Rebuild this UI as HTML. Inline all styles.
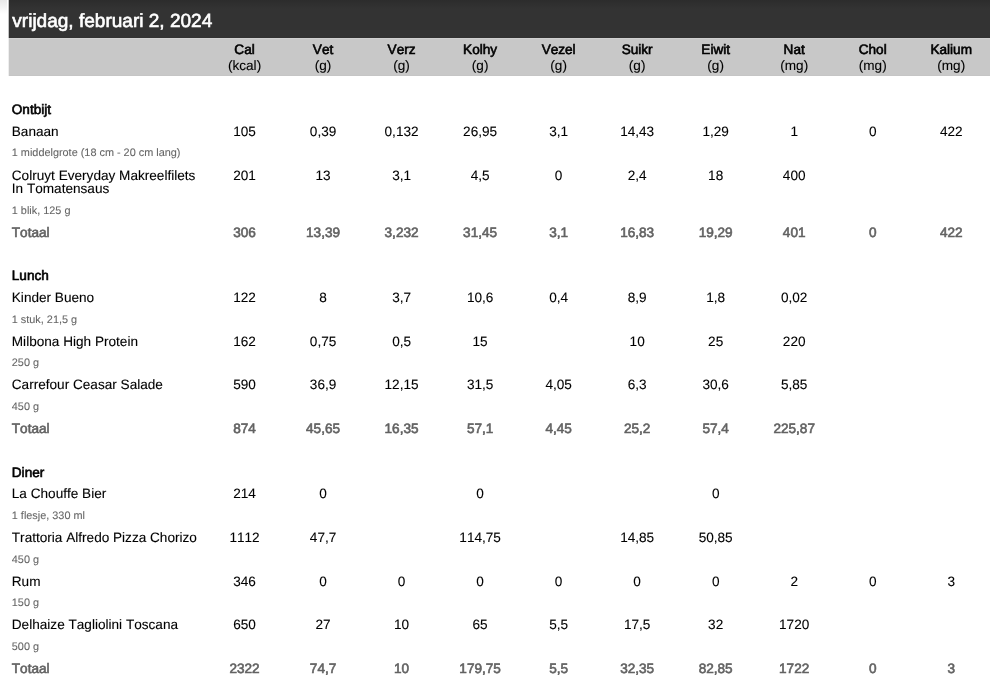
<!DOCTYPE html>
<html lang="nl"><head><meta charset="utf-8"><title>Voedingsdagboek</title>
<style>
html,body{margin:0;padding:0;background:#fff;}
body{width:990px;height:693px;position:relative;overflow:hidden;font-family:"Liberation Sans",sans-serif;color:#000;text-rendering:geometricPrecision;font-kerning:none;}
.shade{position:absolute;left:0;top:0;width:7.3px;height:14px;background:linear-gradient(#e8e8e8,#fff);}
.bar{position:absolute;left:9px;top:0;width:981px;height:38px;background:linear-gradient(#2c2c2c 0,#333 9px,#333 36px,#313131 38px);}
.hdr{position:absolute;left:9px;top:38px;width:981px;height:38px;background:linear-gradient(#d0d0d0 0,#d0d0d0 1px,#c8c8c8 1px,#c8c8c8 37px,#c5c5c5 37px);}
.e1{position:absolute;left:8px;top:0;width:1px;height:38px;background:#c2c2c2;}
.e2{position:absolute;left:8px;top:38px;width:1px;height:38px;background:#eee;}
.t{position:absolute;white-space:nowrap;-webkit-text-stroke:0.1px currentColor;font-size:13.6px;line-height:15px;}
.c{text-align:center;}
.s{font-size:10.88px;line-height:12px;color:#666;-webkit-text-stroke:0.08px currentColor;}
.b{-webkit-text-stroke:0.6px currentColor;}
.g{color:#626262;}
.title{font-size:19.04px;line-height:21px;color:#fff;-webkit-text-stroke:0.62px #fff;}
.txt{position:absolute;left:0;top:0;width:990px;height:693px;}
</style></head><body>
<div class="shade"></div>
<div class="bar"></div>
<div class="hdr"></div>
<div class="e1"></div>
<div class="e2"></div>
<div class="txt">
<div class="t title" style="left:12.3px;top:11.00px">vrijdag, februari 2, 2024</div>
<div class="t c b" style="left:205.30px;top:42.00px;width:78.52px">Cal</div>
<div class="t c b" style="left:283.82px;top:42.00px;width:78.52px">Vet</div>
<div class="t c b" style="left:362.34px;top:42.00px;width:78.52px">Verz</div>
<div class="t c b" style="left:440.86px;top:42.00px;width:78.52px">Kolhy</div>
<div class="t c b" style="left:519.38px;top:42.00px;width:78.52px">Vezel</div>
<div class="t c b" style="left:597.90px;top:42.00px;width:78.52px">Suikr</div>
<div class="t c b" style="left:676.42px;top:42.00px;width:78.52px">Eiwit</div>
<div class="t c b" style="left:754.94px;top:42.00px;width:78.52px">Nat</div>
<div class="t c b" style="left:833.46px;top:42.00px;width:78.52px">Chol</div>
<div class="t c b" style="left:911.98px;top:42.00px;width:78.52px">Kalium</div>
<div class="t c " style="left:205.30px;top:58.00px;width:78.52px">(kcal)</div>
<div class="t c " style="left:283.82px;top:58.00px;width:78.52px">(g)</div>
<div class="t c " style="left:362.34px;top:58.00px;width:78.52px">(g)</div>
<div class="t c " style="left:440.86px;top:58.00px;width:78.52px">(g)</div>
<div class="t c " style="left:519.38px;top:58.00px;width:78.52px">(g)</div>
<div class="t c " style="left:597.90px;top:58.00px;width:78.52px">(g)</div>
<div class="t c " style="left:676.42px;top:58.00px;width:78.52px">(g)</div>
<div class="t c " style="left:754.94px;top:58.00px;width:78.52px">(mg)</div>
<div class="t c " style="left:833.46px;top:58.00px;width:78.52px">(mg)</div>
<div class="t c " style="left:911.98px;top:58.00px;width:78.52px">(mg)</div>
<div class="t b" style="left:11.80px;top:102.00px">Ontbijt</div>
<div class="t " style="left:11.80px;top:124.00px">Banaan</div>
<div class="t c " style="left:205.30px;top:124.00px;width:78.52px">105</div>
<div class="t c " style="left:283.82px;top:124.00px;width:78.52px">0,39</div>
<div class="t c " style="left:362.34px;top:124.00px;width:78.52px">0,132</div>
<div class="t c " style="left:440.86px;top:124.00px;width:78.52px">26,95</div>
<div class="t c " style="left:519.38px;top:124.00px;width:78.52px">3,1</div>
<div class="t c " style="left:597.90px;top:124.00px;width:78.52px">14,43</div>
<div class="t c " style="left:676.42px;top:124.00px;width:78.52px">1,29</div>
<div class="t c " style="left:754.94px;top:124.00px;width:78.52px">1</div>
<div class="t c " style="left:833.46px;top:124.00px;width:78.52px">0</div>
<div class="t c " style="left:911.98px;top:124.00px;width:78.52px">422</div>
<div class="t s" style="left:11.80px;top:147.00px">1 middelgrote (18 cm - 20 cm lang)</div>
<div class="t " style="left:11.80px;top:168.00px">Colruyt Everyday Makreelfilets</div>
<div class="t c " style="left:205.30px;top:168.00px;width:78.52px">201</div>
<div class="t c " style="left:283.82px;top:168.00px;width:78.52px">13</div>
<div class="t c " style="left:362.34px;top:168.00px;width:78.52px">3,1</div>
<div class="t c " style="left:440.86px;top:168.00px;width:78.52px">4,5</div>
<div class="t c " style="left:519.38px;top:168.00px;width:78.52px">0</div>
<div class="t c " style="left:597.90px;top:168.00px;width:78.52px">2,4</div>
<div class="t c " style="left:676.42px;top:168.00px;width:78.52px">18</div>
<div class="t c " style="left:754.94px;top:168.00px;width:78.52px">400</div>
<div class="t " style="left:11.80px;top:181.00px">In Tomatensaus</div>
<div class="t s" style="left:11.80px;top:205.00px">1 blik, 125 g</div>
<div class="t b g" style="left:11.80px;top:225.00px">Totaal</div>
<div class="t c b g" style="left:205.30px;top:225.00px;width:78.52px">306</div>
<div class="t c b g" style="left:283.82px;top:225.00px;width:78.52px">13,39</div>
<div class="t c b g" style="left:362.34px;top:225.00px;width:78.52px">3,232</div>
<div class="t c b g" style="left:440.86px;top:225.00px;width:78.52px">31,45</div>
<div class="t c b g" style="left:519.38px;top:225.00px;width:78.52px">3,1</div>
<div class="t c b g" style="left:597.90px;top:225.00px;width:78.52px">16,83</div>
<div class="t c b g" style="left:676.42px;top:225.00px;width:78.52px">19,29</div>
<div class="t c b g" style="left:754.94px;top:225.00px;width:78.52px">401</div>
<div class="t c b g" style="left:833.46px;top:225.00px;width:78.52px">0</div>
<div class="t c b g" style="left:911.98px;top:225.00px;width:78.52px">422</div>
<div class="t b" style="left:11.80px;top:268.00px">Lunch</div>
<div class="t " style="left:11.80px;top:290.00px">Kinder Bueno</div>
<div class="t c " style="left:205.30px;top:290.00px;width:78.52px">122</div>
<div class="t c " style="left:283.82px;top:290.00px;width:78.52px">8</div>
<div class="t c " style="left:362.34px;top:290.00px;width:78.52px">3,7</div>
<div class="t c " style="left:440.86px;top:290.00px;width:78.52px">10,6</div>
<div class="t c " style="left:519.38px;top:290.00px;width:78.52px">0,4</div>
<div class="t c " style="left:597.90px;top:290.00px;width:78.52px">8,9</div>
<div class="t c " style="left:676.42px;top:290.00px;width:78.52px">1,8</div>
<div class="t c " style="left:754.94px;top:290.00px;width:78.52px">0,02</div>
<div class="t s" style="left:11.80px;top:314.00px">1 stuk, 21,5 g</div>
<div class="t " style="left:11.80px;top:334.00px">Milbona High Protein</div>
<div class="t c " style="left:205.30px;top:334.00px;width:78.52px">162</div>
<div class="t c " style="left:283.82px;top:334.00px;width:78.52px">0,75</div>
<div class="t c " style="left:362.34px;top:334.00px;width:78.52px">0,5</div>
<div class="t c " style="left:440.86px;top:334.00px;width:78.52px">15</div>
<div class="t c " style="left:597.90px;top:334.00px;width:78.52px">10</div>
<div class="t c " style="left:676.42px;top:334.00px;width:78.52px">25</div>
<div class="t c " style="left:754.94px;top:334.00px;width:78.52px">220</div>
<div class="t s" style="left:11.80px;top:357.00px">250 g</div>
<div class="t " style="left:11.80px;top:377.00px">Carrefour Ceasar Salade</div>
<div class="t c " style="left:205.30px;top:377.00px;width:78.52px">590</div>
<div class="t c " style="left:283.82px;top:377.00px;width:78.52px">36,9</div>
<div class="t c " style="left:362.34px;top:377.00px;width:78.52px">12,15</div>
<div class="t c " style="left:440.86px;top:377.00px;width:78.52px">31,5</div>
<div class="t c " style="left:519.38px;top:377.00px;width:78.52px">4,05</div>
<div class="t c " style="left:597.90px;top:377.00px;width:78.52px">6,3</div>
<div class="t c " style="left:676.42px;top:377.00px;width:78.52px">30,6</div>
<div class="t c " style="left:754.94px;top:377.00px;width:78.52px">5,85</div>
<div class="t s" style="left:11.80px;top:401.00px">450 g</div>
<div class="t b g" style="left:11.80px;top:421.00px">Totaal</div>
<div class="t c b g" style="left:205.30px;top:421.00px;width:78.52px">874</div>
<div class="t c b g" style="left:283.82px;top:421.00px;width:78.52px">45,65</div>
<div class="t c b g" style="left:362.34px;top:421.00px;width:78.52px">16,35</div>
<div class="t c b g" style="left:440.86px;top:421.00px;width:78.52px">57,1</div>
<div class="t c b g" style="left:519.38px;top:421.00px;width:78.52px">4,45</div>
<div class="t c b g" style="left:597.90px;top:421.00px;width:78.52px">25,2</div>
<div class="t c b g" style="left:676.42px;top:421.00px;width:78.52px">57,4</div>
<div class="t c b g" style="left:754.94px;top:421.00px;width:78.52px">225,87</div>
<div class="t b" style="left:11.80px;top:465.00px">Diner</div>
<div class="t " style="left:11.80px;top:486.00px">La Chouffe Bier</div>
<div class="t c " style="left:205.30px;top:486.00px;width:78.52px">214</div>
<div class="t c " style="left:283.82px;top:486.00px;width:78.52px">0</div>
<div class="t c " style="left:440.86px;top:486.00px;width:78.52px">0</div>
<div class="t c " style="left:676.42px;top:486.00px;width:78.52px">0</div>
<div class="t s" style="left:11.80px;top:510.00px">1 flesje, 330 ml</div>
<div class="t " style="left:11.80px;top:530.00px">Trattoria Alfredo Pizza Chorizo</div>
<div class="t c " style="left:205.30px;top:530.00px;width:78.52px">1112</div>
<div class="t c " style="left:283.82px;top:530.00px;width:78.52px">47,7</div>
<div class="t c " style="left:440.86px;top:530.00px;width:78.52px">114,75</div>
<div class="t c " style="left:597.90px;top:530.00px;width:78.52px">14,85</div>
<div class="t c " style="left:676.42px;top:530.00px;width:78.52px">50,85</div>
<div class="t s" style="left:11.80px;top:554.00px">450 g</div>
<div class="t " style="left:11.80px;top:574.00px">Rum</div>
<div class="t c " style="left:205.30px;top:574.00px;width:78.52px">346</div>
<div class="t c " style="left:283.82px;top:574.00px;width:78.52px">0</div>
<div class="t c " style="left:362.34px;top:574.00px;width:78.52px">0</div>
<div class="t c " style="left:440.86px;top:574.00px;width:78.52px">0</div>
<div class="t c " style="left:519.38px;top:574.00px;width:78.52px">0</div>
<div class="t c " style="left:597.90px;top:574.00px;width:78.52px">0</div>
<div class="t c " style="left:676.42px;top:574.00px;width:78.52px">0</div>
<div class="t c " style="left:754.94px;top:574.00px;width:78.52px">2</div>
<div class="t c " style="left:833.46px;top:574.00px;width:78.52px">0</div>
<div class="t c " style="left:911.98px;top:574.00px;width:78.52px">3</div>
<div class="t s" style="left:11.80px;top:597.00px">150 g</div>
<div class="t " style="left:11.80px;top:617.00px">Delhaize Tagliolini Toscana</div>
<div class="t c " style="left:205.30px;top:617.00px;width:78.52px">650</div>
<div class="t c " style="left:283.82px;top:617.00px;width:78.52px">27</div>
<div class="t c " style="left:362.34px;top:617.00px;width:78.52px">10</div>
<div class="t c " style="left:440.86px;top:617.00px;width:78.52px">65</div>
<div class="t c " style="left:519.38px;top:617.00px;width:78.52px">5,5</div>
<div class="t c " style="left:597.90px;top:617.00px;width:78.52px">17,5</div>
<div class="t c " style="left:676.42px;top:617.00px;width:78.52px">32</div>
<div class="t c " style="left:754.94px;top:617.00px;width:78.52px">1720</div>
<div class="t s" style="left:11.80px;top:641.00px">500 g</div>
<div class="t b g" style="left:11.80px;top:661.00px">Totaal</div>
<div class="t c b g" style="left:205.30px;top:661.00px;width:78.52px">2322</div>
<div class="t c b g" style="left:283.82px;top:661.00px;width:78.52px">74,7</div>
<div class="t c b g" style="left:362.34px;top:661.00px;width:78.52px">10</div>
<div class="t c b g" style="left:440.86px;top:661.00px;width:78.52px">179,75</div>
<div class="t c b g" style="left:519.38px;top:661.00px;width:78.52px">5,5</div>
<div class="t c b g" style="left:597.90px;top:661.00px;width:78.52px">32,35</div>
<div class="t c b g" style="left:676.42px;top:661.00px;width:78.52px">82,85</div>
<div class="t c b g" style="left:754.94px;top:661.00px;width:78.52px">1722</div>
<div class="t c b g" style="left:833.46px;top:661.00px;width:78.52px">0</div>
<div class="t c b g" style="left:911.98px;top:661.00px;width:78.52px">3</div>
</div>
</body></html>
